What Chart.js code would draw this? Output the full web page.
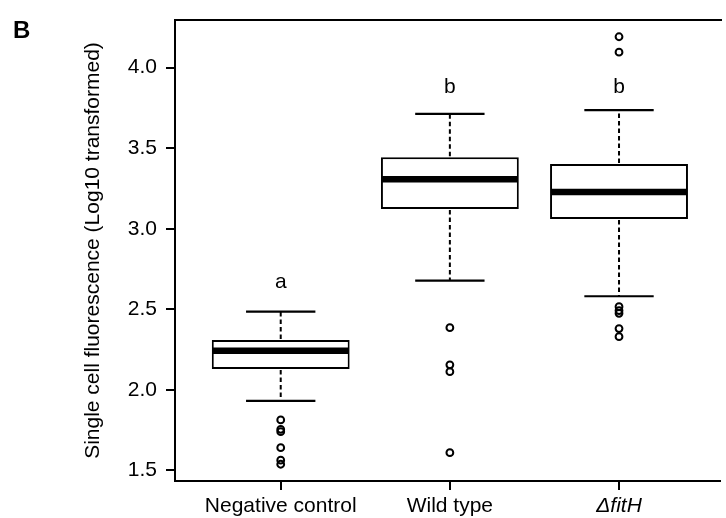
<!DOCTYPE html>
<html><head><meta charset="utf-8">
<script src="https://cdn.jsdelivr.net/npm/chart.js@4"></script>
<style>html,body{margin:0;padding:0;background:#fff;overflow:hidden}canvas{display:block}</style>
</head><body>
<canvas id="c" width="726" height="518"></canvas>
<script>
// ---- data ----
const categories = ['Negative control', 'Wild type', '\u0394fitH'];
const positions = [1, 2, 3];
const whiskerLow = [1.931, 2.678, 2.581];
const q1 = [2.130, 3.123, 3.061];
const median = [2.243, 3.307, 3.228];
const q3 = [2.310, 3.444, 3.402];
const whiskerHigh = [2.485, 3.713, 3.737];
const outliersNC = [1.813, 1.755, 1.740, 1.641, 1.563, 1.538];
const outliersWT = [2.386, 2.155, 2.113, 1.610];
const outliersFH = [4.192, 4.096, 2.516, 2.492, 2.475, 2.380, 2.330];
const groupLetters = ['a', 'b', 'b'];
const letterY = [2.633, 3.843, 3.843];
const yTicks = [1.5, 2.0, 2.5, 3.0, 3.5, 4.0];
const yTitle = 'Single cell fluorescence (Log10 transformed)';
const panelLabel = 'B';

// ---- styling ----
const FONT = '"Liberation Sans", Arial, Helvetica, sans-serif';
const FS = 21;
const BOX_W = 0.815, CAP_W = 0.41;

const outlierSets = [outliersNC, outliersWT, outliersFH];
const outlierPoints = [];
outlierSets.forEach((arr, i) => arr.forEach(v => outlierPoints.push({x: positions[i], y: v})));

const boxExtras = {
  id: 'boxExtras',
  afterDatasetsDraw(chart) {
    const {ctx, scales: {x, y}} = chart;
    ctx.save();
    ctx.strokeStyle = '#000';
    positions.forEach((p, i) => {
      const xc = x.getPixelForValue(p);
      const bw = x.getPixelForValue(p + BOX_W / 2) - xc;
      const cw = x.getPixelForValue(p + CAP_W / 2) - xc;
      // dashed whiskers
      ctx.lineWidth = 2;
      ctx.setLineDash([4.5, 3]);
      ctx.beginPath();
      ctx.moveTo(xc, y.getPixelForValue(q3[i]) - 1);
      ctx.lineTo(xc, y.getPixelForValue(whiskerHigh[i]));
      ctx.moveTo(xc, y.getPixelForValue(q1[i]) + 1);
      ctx.lineTo(xc, y.getPixelForValue(whiskerLow[i]));
      ctx.stroke();
      ctx.setLineDash([]);
      // caps
      ctx.lineWidth = 2.2;
      ctx.beginPath();
      ctx.moveTo(xc - cw, y.getPixelForValue(whiskerHigh[i]));
      ctx.lineTo(xc + cw, y.getPixelForValue(whiskerHigh[i]));
      ctx.moveTo(xc - cw, y.getPixelForValue(whiskerLow[i]));
      ctx.lineTo(xc + cw, y.getPixelForValue(whiskerLow[i]));
      ctx.stroke();
      // median
      ctx.lineWidth = 6.5;
      ctx.beginPath();
      ctx.moveTo(xc - bw + 1, y.getPixelForValue(median[i]));
      ctx.lineTo(xc + bw - 1, y.getPixelForValue(median[i]));
      ctx.stroke();
    });
    ctx.restore();
  },
  afterDraw(chart) {
    const {ctx, chartArea, scales: {x, y}} = chart;
    ctx.save();
    // top frame line
    ctx.strokeStyle = '#000';
    ctx.lineWidth = 2;
    ctx.beginPath();
    ctx.moveTo(chartArea.left - 1, chartArea.top);
    ctx.lineTo(chartArea.right + 2, chartArea.top);
    ctx.stroke();
    // group letters
    ctx.fillStyle = '#000';
    ctx.font = FS + 'px ' + FONT;
    ctx.textAlign = 'center';
    ctx.textBaseline = 'alphabetic';
    groupLetters.forEach((t, i) => ctx.fillText(t, x.getPixelForValue(positions[i]), y.getPixelForValue(letterY[i])));
    // panel label
    ctx.font = 'bold 24px ' + FONT;
    ctx.textAlign = 'left';
    ctx.fillText(panelLabel, 13, 38);
    ctx.restore();
  }
};

new Chart(document.getElementById('c'), {
  type: 'bar',
  data: {
    datasets: [
      {
        type: 'bar',
        data: positions.map((p, i) => ({x: p, y: [q1[i], q3[i]]})),
        backgroundColor: '#fff',
        borderColor: '#000',
        borderWidth: 2,
        borderSkipped: false,
        barPercentage: BOX_W,
        categoryPercentage: 1,
        order: 2
      },
      {
        type: 'scatter',
        data: outlierPoints,
        showLine: false,
        pointStyle: 'circle',
        pointRadius: 3.4,
        pointBorderWidth: 2,
        pointBorderColor: '#000',
        pointBackgroundColor: 'rgba(0,0,0,0)',
        order: 1
      }
    ]
  },
  options: {
    responsive: false,
    devicePixelRatio: 1,
    animation: false,
    events: [],
    layout: {padding: {left: 78, top: 20, right: 0, bottom: 0}},
    plugins: {legend: {display: false}, tooltip: {enabled: false}, title: {display: false}},
    scales: {
      x: {
        type: 'linear',
        min: 0.375, max: 3.597,
        offset: false,
        afterBuildTicks: s => { s.ticks = positions.map(v => ({value: v})); },
        afterFit: s => { s.height = 37; s.paddingLeft = 0; s.paddingRight = 0; },
        grid: {display: true, drawOnChartArea: false, drawTicks: true, tickLength: 9, color: '#000', lineWidth: 2, offset: false},
        border: {display: true, color: '#000', width: 2},
        ticks: {
          autoSkip: false, maxRotation: 0, minRotation: 0, padding: 4, color: '#000',
          font: ctx => (ctx.index === 2 ? {family: FONT, size: FS, style: 'italic'} : {family: FONT, size: FS}),
          callback: v => categories[positions.indexOf(v)]
        }
      },
      y: {
        type: 'linear',
        min: 1.434, max: 4.296,
        afterBuildTicks: s => { s.ticks = yTicks.map(v => ({value: v})); },
        afterFit: s => { s.width = 97; s.paddingTop = 0; s.paddingBottom = 0; },
        grid: {display: true, drawOnChartArea: false, drawTicks: true, tickLength: 9, color: '#000', lineWidth: 2},
        border: {display: true, color: '#000', width: 2},
        ticks: {padding: 9, color: '#000', font: {family: FONT, size: FS}, callback: v => v.toFixed(1)},
        title: {display: true, text: yTitle, color: '#000', font: {family: FONT, size: FS}, padding: {top: 3, bottom: 4}}
      }
    }
  },
  plugins: [boxExtras]
});
</script>
</body></html>
